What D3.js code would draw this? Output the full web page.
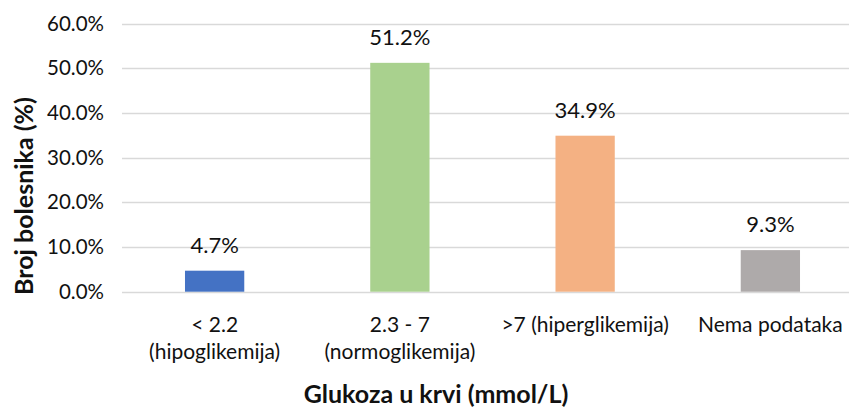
<!DOCTYPE html>
<html>
<head>
<meta charset="utf-8">
<script src="https://cdn.jsdelivr.net/npm/d3@7"></script>
<style>
	body { margin: 0; background: #fff; }
	svg text { font-family: Lato, "Open Sans", sans-serif; fill: #111; }
</style>
</head>
<body>
<svg id="chart" width="849" height="409"></svg>
<script>
// data
var categories = ["< 2.2|(hipoglikemija)", "2.3 - 7|(normoglikemija)", ">7 (hiperglikemija)", "Nema podataka"];
var values = [4.7, 51.2, 34.9, 9.3];
var colors = ["#4472C4", "#A9D18E", "#F4B183", "#AEAAAA"];
var yTicks = [0, 10, 20, 30, 40, 50, 60];

var svg = d3.select("#chart");

// plot area runs past the right edge, like the reference crop
var x = d3.scaleBand()
	.domain(categories)
	.range([122, 863])
	.paddingInner(0.68)
	.paddingOuter(0.34);
var y = d3.scaleLinear()
	.domain([0, 60])
	.range([291.7, 23.5]);

// gridlines
svg.append("g")
	.selectAll("line")
	.data(yTicks)
	.enter()
	.append("line")
	.attr("x1", 122)
	.attr("x2", 863)
	.attr("y1", function(d) { return Math.round(y(d)) + 0.5; })
	.attr("y2", function(d) { return Math.round(y(d)) + 0.5; })
	.style("stroke", "#D9D9D9")
	.style("stroke-width", 1.5);

// y axis labels
var yAxis = svg.append("g")
	.attr("transform", "translate(104,0)")
	.call(d3.axisLeft(y).tickValues(yTicks).tickSize(0).tickPadding(0)
		.tickFormat(function(d) { return d.toFixed(1) + "%"; }));
yAxis.select(".domain").remove();
yAxis.selectAll("text")
	.style("font-size", "20.5px")
	.style("font-family", "Lato, sans-serif")
	.attr("fill", "#111");

// bars
svg.append("g")
	.selectAll("rect")
	.data(values)
	.enter()
	.append("rect")
	.attr("x", function(d, i) { return x(categories[i]); })
	.attr("y", function(d) { return y(d); })
	.attr("width", x.bandwidth())
	.attr("height", function(d) { return y(0) - y(d); })
	.style("fill", function(d, i) { return colors[i]; });

// value labels
svg.append("g")
	.selectAll("text")
	.data(values)
	.enter()
	.append("text")
	.attr("x", function(d, i) { return x(categories[i]) + x.bandwidth() / 2; })
	.attr("y", function(d) { return y(d) - 18; })
	.attr("text-anchor", "middle")
	.style("font-size", "22px")
	.text(function(d) { return d.toFixed(1) + "%"; });

// category labels (two lines where needed)
var cat = svg.append("g")
	.selectAll("text")
	.data(categories)
	.enter()
	.append("text")
	.attr("text-anchor", "middle")
	.style("font-size", "21px")
	.attr("x", function(d) { return x(d) + x.bandwidth() / 2; })
	.attr("y", 332);
cat.selectAll("tspan")
	.data(function(d) { return d.split("|").map(function(s) { return { s: s, c: d }; }); })
	.enter()
	.append("tspan")
	.attr("x", function(d) { return x(d.c) + x.bandwidth() / 2; })
	.attr("dy", function(d, i) { return i === 0 ? 0 : 27; })
	.text(function(d) { return d.s; });

// axis titles
svg.append("text")
	.attr("transform", "translate(33,196) rotate(-90)")
	.attr("text-anchor", "middle")
	.style("font-size", "25px")
	.style("font-weight", "bold")
	.text("Broj bolesnika (%)");

svg.append("text")
	.attr("x", 436)
	.attr("y", 403)
	.attr("text-anchor", "middle")
	.style("font-size", "25px")
	.style("font-weight", "bold")
	.text("Glukoza u krvi (mmol/L)");
</script>
</body>
</html>
